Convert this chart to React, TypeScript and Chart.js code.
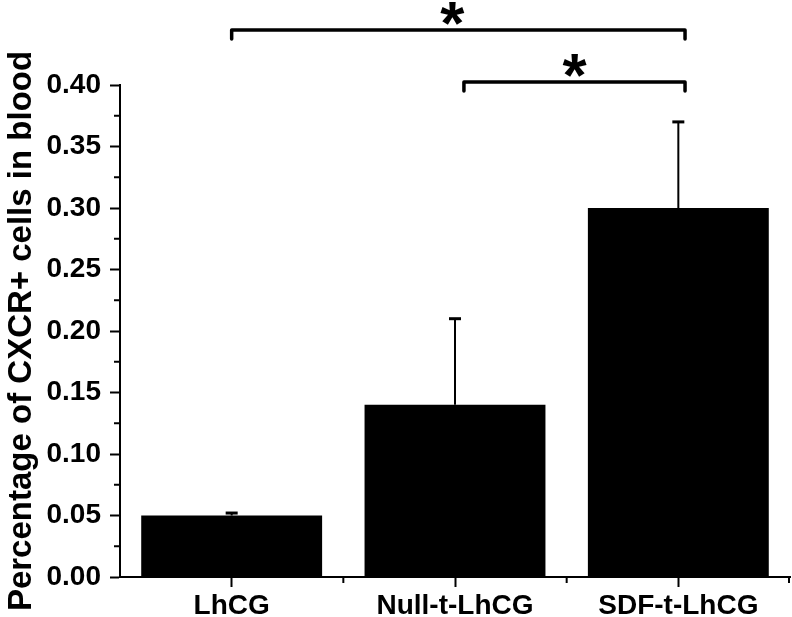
import React, { useEffect, useRef } from 'react';
import { Chart, registerables } from 'chart.js';

Chart.register(...registerables);

const categories = ['LhCG', 'Null-t-LhCG', 'SDF-t-LhCG'];
const means = [0.05, 0.14, 0.30];
const errorsUp = [0.002, 0.07, 0.07];
const yMin = 0;
const yMax = 0.4;
const yStep = 0.05;
const bracketFrom = [0, 1];
const bracketTo = [2, 2];
const bracketLevel = [0.4447, 0.4024];
const bracketLabel = ['*', '*'];

const FONT = '"Liberation Sans", Arial, sans-serif';

const annotPlugin = {
  id: 'annot',
  afterDraw(chart: any) {
    const ctx = chart.ctx;
    const x = chart.scales.x;
    const y = chart.scales.y;
    const line = (x1: number, y1: number, x2: number, y2: number) => {
      ctx.beginPath();
      ctx.moveTo(x1, y1);
      ctx.lineTo(x2, y2);
      ctx.stroke();
    };
    ctx.save();
    ctx.strokeStyle = '#000';
    ctx.fillStyle = '#000';
    // error bars (upper only)
    means.forEach((m, i) => {
      const px = x.getPixelForValue(i);
      const y0 = y.getPixelForValue(m);
      const y1 = y.getPixelForValue(m + errorsUp[i]);
      ctx.lineWidth = 2;
      line(px, y0, px, y1);
      ctx.lineWidth = 3;
      line(px - 6, y1, px + 6, y1);
    });
    // minor ticks on y
    ctx.lineWidth = 2;
    for (let k = 0; k < Math.round((yMax - yMin) / yStep); k++) {
      const v = yMin + yStep * (k + 0.5);
      const py = y.getPixelForValue(v);
      line(chart.chartArea.left - 6, py, chart.chartArea.left, py);
    }
    // minor ticks on x at category boundaries
    for (let i = 0; i < categories.length; i++) {
      const px = Math.min(x.getPixelForValue(i + 0.5), chart.chartArea.right - 1);
      line(px, chart.chartArea.bottom, px, chart.chartArea.bottom + 6);
    }
    // significance brackets
    ctx.lineWidth = 3.5;
    ctx.lineJoin = 'round';
    ctx.lineCap = 'round';
    bracketFrom.forEach((f, i) => {
      const x1 = x.getPixelForValue(f + (f === 0 ? 0 : 0.04));
      const x2 = x.getPixelForValue(bracketTo[i] + 0.03);
      const yl = y.getPixelForValue(bracketLevel[i]);
      ctx.beginPath();
      ctx.moveTo(x1, yl + 9);
      ctx.lineTo(x1, yl);
      ctx.lineTo(x2, yl);
      ctx.lineTo(x2, yl + 9);
      ctx.stroke();
      ctx.font = `bold 62px ${FONT}`;
      ctx.textAlign = 'center';
      ctx.textBaseline = 'alphabetic';
      const cx = f === 0 ? (x1 + x2) / 2 - 6 : (x1 + x2) / 2;
      ctx.fillText(bracketLabel[i], cx, yl - 21 + 0.56 * 62);
    });
    ctx.restore();
  },
};

export default function App() {
  const ref = useRef<HTMLCanvasElement>(null);
  useEffect(() => {
    if (!ref.current) return;
    const chart = new Chart(ref.current, {
      type: 'bar',
      data: {
        labels: categories,
        datasets: [
          {
            data: means,
            backgroundColor: '#000',
            borderWidth: 0,
            categoryPercentage: 0.81,
            barPercentage: 1,
          },
        ],
      },
      options: {
        responsive: false,
        animation: false,
        layout: { padding: { top: 85, right: 2, left: 0, bottom: 0 } },
        plugins: { legend: { display: false }, tooltip: { enabled: false } },
        scales: {
          x: {
            afterFit: (s: any) => {
              s.height = 40;
            },
            grid: {
              offset: false,
              drawOnChartArea: false,
              drawTicks: true,
              tickLength: 10,
              tickWidth: 2,
              tickColor: '#000',
            },
            border: { display: true, color: '#000', width: 2 },
            ticks: {
              color: '#000',
              padding: 2,
              maxRotation: 0,
              font: { family: FONT, size: 28, weight: 'bold' },
            },
          },
          y: {
            min: yMin,
            max: yMax,
            afterFit: (s: any) => {
              s.width = 120;
            },
            grid: {
              drawOnChartArea: false,
              drawTicks: true,
              tickLength: 10,
              tickWidth: 2,
              tickColor: '#000',
            },
            border: { display: true, color: '#000', width: 2 },
            ticks: {
              stepSize: yStep,
              color: '#000',
              padding: 9,
              font: { family: FONT, size: 28, weight: 'bold' },
              callback: (v: any) => Number(v).toFixed(2),
            },
            title: {
              display: true,
              text: 'Percentage of CXCR+ cells in blood',
              color: '#000',
              padding: { top: 2, bottom: 0 },
              font: { family: FONT, size: 33, weight: 'bold' },
            },
          },
        },
      },
      plugins: [annotPlugin],
    } as any);
    return () => chart.destroy();
  }, []);
  return (
    <div style={{ position: 'absolute', left: 0, top: 0, width: 792, height: 617, background: '#fff' }}>
      <canvas ref={ref} width={792} height={617} style={{ display: 'block' }} />
    </div>
  );
}
